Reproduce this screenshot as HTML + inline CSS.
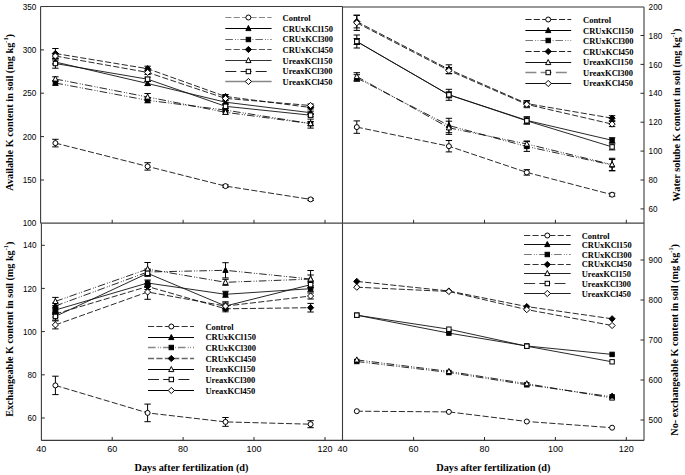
<!DOCTYPE html>
<html><head><meta charset="utf-8"><style>
html,body{margin:0;padding:0;background:#fff;width:685px;height:475px;overflow:hidden}
svg{display:block}
text{fill:#000}
</style></head><body>
<svg width="685" height="475" viewBox="0 0 685 475"><rect width="685" height="475" fill="#fff"/><line x1="40.60" y1="6.50" x2="342.50" y2="6.50" stroke="#3a3a3a" stroke-width="1.1" />
<line x1="342.50" y1="7.00" x2="644.00" y2="7.00" stroke="#333" stroke-width="1.0" />
<line x1="40.60" y1="6.50" x2="40.60" y2="223.20" stroke="#3a3a3a" stroke-width="1.1" />
<line x1="41.40" y1="223.20" x2="41.40" y2="440.40" stroke="#3a3a3a" stroke-width="1.1" />
<line x1="342.50" y1="6.50" x2="342.50" y2="440.40" stroke="#3a3a3a" stroke-width="1.1" />
<line x1="644.00" y1="7.00" x2="644.00" y2="440.40" stroke="#666" stroke-width="1.4" />
<line x1="40.60" y1="223.20" x2="644.00" y2="223.20" stroke="#444" stroke-width="1.2" />
<line x1="41.40" y1="440.40" x2="644.00" y2="440.40" stroke="#3a3a3a" stroke-width="1.1" />
<line x1="112.20" y1="223.20" x2="112.20" y2="219.80" stroke="#2a2a2a" stroke-width="1.0" />
<line x1="183.10" y1="223.20" x2="183.10" y2="219.80" stroke="#2a2a2a" stroke-width="1.0" />
<line x1="254.00" y1="223.20" x2="254.00" y2="219.80" stroke="#2a2a2a" stroke-width="1.0" />
<line x1="325.00" y1="223.20" x2="325.00" y2="219.80" stroke="#2a2a2a" stroke-width="1.0" />
<line x1="413.60" y1="223.20" x2="413.60" y2="219.80" stroke="#2a2a2a" stroke-width="1.0" />
<line x1="484.50" y1="223.20" x2="484.50" y2="219.80" stroke="#2a2a2a" stroke-width="1.0" />
<line x1="555.40" y1="223.20" x2="555.40" y2="219.80" stroke="#2a2a2a" stroke-width="1.0" />
<line x1="626.30" y1="223.20" x2="626.30" y2="219.80" stroke="#2a2a2a" stroke-width="1.0" />
<line x1="112.20" y1="440.40" x2="112.20" y2="437.00" stroke="#2a2a2a" stroke-width="1.0" />
<line x1="183.10" y1="440.40" x2="183.10" y2="437.00" stroke="#2a2a2a" stroke-width="1.0" />
<line x1="254.00" y1="440.40" x2="254.00" y2="437.00" stroke="#2a2a2a" stroke-width="1.0" />
<line x1="325.00" y1="440.40" x2="325.00" y2="437.00" stroke="#2a2a2a" stroke-width="1.0" />
<line x1="413.60" y1="440.40" x2="413.60" y2="437.00" stroke="#2a2a2a" stroke-width="1.0" />
<line x1="484.50" y1="440.40" x2="484.50" y2="437.00" stroke="#2a2a2a" stroke-width="1.0" />
<line x1="555.40" y1="440.40" x2="555.40" y2="437.00" stroke="#2a2a2a" stroke-width="1.0" />
<line x1="626.30" y1="440.40" x2="626.30" y2="437.00" stroke="#2a2a2a" stroke-width="1.0" />
<text x="41.30" y="452.00" font-family="Liberation Sans" font-size="9" font-weight="normal" text-anchor="middle" >40</text>
<text x="112.20" y="452.00" font-family="Liberation Sans" font-size="9" font-weight="normal" text-anchor="middle" >60</text>
<text x="183.10" y="452.00" font-family="Liberation Sans" font-size="9" font-weight="normal" text-anchor="middle" >80</text>
<text x="254.00" y="452.00" font-family="Liberation Sans" font-size="9" font-weight="normal" text-anchor="middle" >100</text>
<text x="325.00" y="452.00" font-family="Liberation Sans" font-size="9" font-weight="normal" text-anchor="middle" >120</text>
<text x="342.50" y="452.00" font-family="Liberation Sans" font-size="9" font-weight="normal" text-anchor="middle" >40</text>
<text x="413.60" y="452.00" font-family="Liberation Sans" font-size="9" font-weight="normal" text-anchor="middle" >60</text>
<text x="484.50" y="452.00" font-family="Liberation Sans" font-size="9" font-weight="normal" text-anchor="middle" >80</text>
<text x="555.40" y="452.00" font-family="Liberation Sans" font-size="9" font-weight="normal" text-anchor="middle" >100</text>
<text x="626.30" y="452.00" font-family="Liberation Sans" font-size="9" font-weight="normal" text-anchor="middle" >120</text>
<text x="36.40" y="9.60" font-family="Liberation Sans" font-size="9.9" text-anchor="end" textLength="13.6" lengthAdjust="spacingAndGlyphs">350</text>
<line x1="40.60" y1="49.90" x2="44.00" y2="49.90" stroke="#2a2a2a" stroke-width="1.0" />
<text x="36.40" y="53.00" font-family="Liberation Sans" font-size="9.9" text-anchor="end" textLength="13.6" lengthAdjust="spacingAndGlyphs">300</text>
<line x1="40.60" y1="93.20" x2="44.00" y2="93.20" stroke="#2a2a2a" stroke-width="1.0" />
<text x="36.40" y="96.30" font-family="Liberation Sans" font-size="9.9" text-anchor="end" textLength="13.6" lengthAdjust="spacingAndGlyphs">250</text>
<line x1="40.60" y1="136.60" x2="44.00" y2="136.60" stroke="#2a2a2a" stroke-width="1.0" />
<text x="36.40" y="139.70" font-family="Liberation Sans" font-size="9.9" text-anchor="end" textLength="13.6" lengthAdjust="spacingAndGlyphs">200</text>
<line x1="40.60" y1="180.00" x2="44.00" y2="180.00" stroke="#2a2a2a" stroke-width="1.0" />
<text x="36.40" y="183.10" font-family="Liberation Sans" font-size="9.9" text-anchor="end" textLength="13.6" lengthAdjust="spacingAndGlyphs">150</text>
<text x="36.40" y="226.40" font-family="Liberation Sans" font-size="9.9" text-anchor="end" textLength="13.6" lengthAdjust="spacingAndGlyphs">100</text>
<line x1="41.40" y1="245.30" x2="44.80" y2="245.30" stroke="#2a2a2a" stroke-width="1.0" />
<text x="36.60" y="248.40" font-family="Liberation Sans" font-size="9.9" text-anchor="end" textLength="13.6" lengthAdjust="spacingAndGlyphs">140</text>
<line x1="41.40" y1="288.40" x2="44.80" y2="288.40" stroke="#2a2a2a" stroke-width="1.0" />
<text x="36.60" y="291.50" font-family="Liberation Sans" font-size="9.9" text-anchor="end" textLength="13.6" lengthAdjust="spacingAndGlyphs">120</text>
<line x1="41.40" y1="331.60" x2="44.80" y2="331.60" stroke="#2a2a2a" stroke-width="1.0" />
<text x="36.60" y="334.70" font-family="Liberation Sans" font-size="9.9" text-anchor="end" textLength="13.6" lengthAdjust="spacingAndGlyphs">100</text>
<line x1="41.40" y1="374.80" x2="44.80" y2="374.80" stroke="#2a2a2a" stroke-width="1.0" />
<text x="36.60" y="377.90" font-family="Liberation Sans" font-size="9.9" text-anchor="end" textLength="9.0" lengthAdjust="spacingAndGlyphs">80</text>
<line x1="41.40" y1="418.00" x2="44.80" y2="418.00" stroke="#2a2a2a" stroke-width="1.0" />
<text x="36.60" y="421.10" font-family="Liberation Sans" font-size="9.9" text-anchor="end" textLength="9.0" lengthAdjust="spacingAndGlyphs">60</text>
<text x="648.60" y="9.90" font-family="Liberation Sans" font-size="9.9" text-anchor="start" textLength="13.6" lengthAdjust="spacingAndGlyphs">200</text>
<line x1="644.00" y1="35.50" x2="640.50" y2="35.50" stroke="#2a2a2a" stroke-width="1.0" />
<text x="648.60" y="38.60" font-family="Liberation Sans" font-size="9.9" text-anchor="start" textLength="13.6" lengthAdjust="spacingAndGlyphs">180</text>
<line x1="644.00" y1="64.40" x2="640.50" y2="64.40" stroke="#2a2a2a" stroke-width="1.0" />
<text x="648.60" y="67.50" font-family="Liberation Sans" font-size="9.9" text-anchor="start" textLength="13.6" lengthAdjust="spacingAndGlyphs">160</text>
<line x1="644.00" y1="93.30" x2="640.50" y2="93.30" stroke="#2a2a2a" stroke-width="1.0" />
<text x="648.60" y="96.40" font-family="Liberation Sans" font-size="9.9" text-anchor="start" textLength="13.6" lengthAdjust="spacingAndGlyphs">140</text>
<line x1="644.00" y1="122.20" x2="640.50" y2="122.20" stroke="#2a2a2a" stroke-width="1.0" />
<text x="648.60" y="125.30" font-family="Liberation Sans" font-size="9.9" text-anchor="start" textLength="13.6" lengthAdjust="spacingAndGlyphs">120</text>
<line x1="644.00" y1="151.10" x2="640.50" y2="151.10" stroke="#2a2a2a" stroke-width="1.0" />
<text x="648.60" y="154.20" font-family="Liberation Sans" font-size="9.9" text-anchor="start" textLength="13.6" lengthAdjust="spacingAndGlyphs">100</text>
<line x1="644.00" y1="180.00" x2="640.50" y2="180.00" stroke="#2a2a2a" stroke-width="1.0" />
<text x="648.60" y="183.10" font-family="Liberation Sans" font-size="9.9" text-anchor="start" textLength="9.0" lengthAdjust="spacingAndGlyphs">80</text>
<line x1="644.00" y1="208.90" x2="640.50" y2="208.90" stroke="#2a2a2a" stroke-width="1.0" />
<text x="648.60" y="212.00" font-family="Liberation Sans" font-size="9.9" text-anchor="start" textLength="9.0" lengthAdjust="spacingAndGlyphs">60</text>
<line x1="644.00" y1="260.00" x2="640.50" y2="260.00" stroke="#2a2a2a" stroke-width="1.0" />
<text x="648.60" y="263.10" font-family="Liberation Sans" font-size="9.9" text-anchor="start" textLength="13.6" lengthAdjust="spacingAndGlyphs">900</text>
<line x1="644.00" y1="300.00" x2="640.50" y2="300.00" stroke="#2a2a2a" stroke-width="1.0" />
<text x="648.60" y="303.10" font-family="Liberation Sans" font-size="9.9" text-anchor="start" textLength="13.6" lengthAdjust="spacingAndGlyphs">800</text>
<line x1="644.00" y1="340.00" x2="640.50" y2="340.00" stroke="#2a2a2a" stroke-width="1.0" />
<text x="648.60" y="343.10" font-family="Liberation Sans" font-size="9.9" text-anchor="start" textLength="13.6" lengthAdjust="spacingAndGlyphs">700</text>
<line x1="644.00" y1="380.00" x2="640.50" y2="380.00" stroke="#2a2a2a" stroke-width="1.0" />
<text x="648.60" y="383.10" font-family="Liberation Sans" font-size="9.9" text-anchor="start" textLength="13.6" lengthAdjust="spacingAndGlyphs">600</text>
<line x1="644.00" y1="420.00" x2="640.50" y2="420.00" stroke="#2a2a2a" stroke-width="1.0" />
<text x="648.60" y="423.10" font-family="Liberation Sans" font-size="9.9" text-anchor="start" textLength="13.6" lengthAdjust="spacingAndGlyphs">500</text>
<text x="191.50" y="471.00" font-family="Liberation Serif" font-size="10.2" font-weight="bold" text-anchor="middle" textLength="113.9" lengthAdjust="spacingAndGlyphs">Days after fertilization (d)</text>
<text x="493.40" y="471.40" font-family="Liberation Serif" font-size="10.2" font-weight="bold" text-anchor="middle" textLength="114.2" lengthAdjust="spacingAndGlyphs">Days after fertilization (d)</text>
<g transform="translate(13.00,112.35) rotate(-90)"><text x="0" y="0" font-family="Liberation Serif" font-size="10.25" font-weight="bold" text-anchor="middle" textLength="156.7" lengthAdjust="spacingAndGlyphs">Available K content in soil (mg kg<tspan dy="-4.6" font-size="6.35">-1</tspan><tspan dy="4.6">)</tspan></text></g>
<g transform="translate(13.00,329.25) rotate(-90)"><text x="0" y="0" font-family="Liberation Serif" font-size="10.25" font-weight="bold" text-anchor="middle" textLength="175.1" lengthAdjust="spacingAndGlyphs">Exchangeable K content in soil (mg kg<tspan dy="-4.6" font-size="6.35">-1</tspan><tspan dy="4.6">)</tspan></text></g>
<g transform="translate(679.90,114.95) rotate(-90)"><text x="0" y="0" font-family="Liberation Serif" font-size="10.25" font-weight="bold" text-anchor="middle" textLength="172.9" lengthAdjust="spacingAndGlyphs">Water solube K content in soil (mg kg<tspan dy="-4.6" font-size="6.35">-1</tspan><tspan dy="4.6">)</tspan></text></g>
<g transform="translate(677.90,339.85) rotate(-90)"><text x="0" y="0" font-family="Liberation Serif" font-size="10.25" font-weight="bold" text-anchor="middle" textLength="191.7" lengthAdjust="spacingAndGlyphs">No- exchangeable K content in soil (mg kg<tspan dy="-4.6" font-size="6.35">-1</tspan><tspan dy="4.6">)</tspan></text></g>
<polyline points="55.40,143.10 147.60,166.40 225.50,186.10 310.60,199.40" fill="none" stroke="#111" stroke-width="0.9" stroke-dasharray="6.1 2.3"/>
<polyline points="55.40,62.00 147.60,83.50 225.50,102.20 310.60,112.70" fill="none" stroke="#111" stroke-width="0.9" />
<polyline points="55.40,83.00 147.60,100.30 225.50,110.10 310.60,123.60" fill="none" stroke="#111" stroke-width="0.9" stroke-dasharray="7.6 2.2 0.9 1.5 0.9 1.9"/>
<polyline points="55.40,53.50 147.60,68.70 225.50,96.50 310.60,107.50" fill="none" stroke="#111" stroke-width="0.9" stroke-dasharray="6.1 2.3"/>
<polyline points="55.40,79.00 147.60,97.00 225.50,112.30 310.60,123.60" fill="none" stroke="#111" stroke-width="0.9" stroke-dasharray="7.6 2.2 0.9 1.5 0.9 1.9"/>
<polyline points="55.40,63.50 147.60,79.20 225.50,106.30 310.60,115.20" fill="none" stroke="#111" stroke-width="0.9" />
<polyline points="55.40,56.00 147.60,72.40 225.50,98.40 310.60,105.50" fill="none" stroke="#111" stroke-width="0.9" stroke-dasharray="6.1 2.3"/>
<line x1="55.40" y1="139.30" x2="55.40" y2="146.90" stroke="#000" stroke-width="1.0" />
<line x1="52.20" y1="139.30" x2="58.60" y2="139.30" stroke="#000" stroke-width="1.0" />
<line x1="52.20" y1="146.90" x2="58.60" y2="146.90" stroke="#000" stroke-width="1.0" />
<line x1="147.60" y1="162.70" x2="147.60" y2="170.10" stroke="#000" stroke-width="1.0" />
<line x1="144.40" y1="162.70" x2="150.80" y2="162.70" stroke="#000" stroke-width="1.0" />
<line x1="144.40" y1="170.10" x2="150.80" y2="170.10" stroke="#000" stroke-width="1.0" />
<line x1="225.50" y1="184.90" x2="225.50" y2="187.30" stroke="#000" stroke-width="1.0" />
<line x1="222.30" y1="184.90" x2="228.70" y2="184.90" stroke="#000" stroke-width="1.0" />
<line x1="222.30" y1="187.30" x2="228.70" y2="187.30" stroke="#000" stroke-width="1.0" />
<line x1="310.60" y1="198.40" x2="310.60" y2="200.40" stroke="#000" stroke-width="1.0" />
<line x1="307.40" y1="198.40" x2="313.80" y2="198.40" stroke="#000" stroke-width="1.0" />
<line x1="307.40" y1="200.40" x2="313.80" y2="200.40" stroke="#000" stroke-width="1.0" />
<line x1="55.40" y1="60.00" x2="55.40" y2="64.00" stroke="#000" stroke-width="1.0" />
<line x1="52.20" y1="60.00" x2="58.60" y2="60.00" stroke="#000" stroke-width="1.0" />
<line x1="52.20" y1="64.00" x2="58.60" y2="64.00" stroke="#000" stroke-width="1.0" />
<line x1="147.60" y1="81.50" x2="147.60" y2="85.50" stroke="#000" stroke-width="1.0" />
<line x1="144.40" y1="81.50" x2="150.80" y2="81.50" stroke="#000" stroke-width="1.0" />
<line x1="144.40" y1="85.50" x2="150.80" y2="85.50" stroke="#000" stroke-width="1.0" />
<line x1="225.50" y1="100.70" x2="225.50" y2="103.70" stroke="#000" stroke-width="1.0" />
<line x1="222.30" y1="100.70" x2="228.70" y2="100.70" stroke="#000" stroke-width="1.0" />
<line x1="222.30" y1="103.70" x2="228.70" y2="103.70" stroke="#000" stroke-width="1.0" />
<line x1="310.60" y1="111.20" x2="310.60" y2="114.20" stroke="#000" stroke-width="1.0" />
<line x1="307.40" y1="111.20" x2="313.80" y2="111.20" stroke="#000" stroke-width="1.0" />
<line x1="307.40" y1="114.20" x2="313.80" y2="114.20" stroke="#000" stroke-width="1.0" />
<line x1="55.40" y1="80.80" x2="55.40" y2="85.20" stroke="#000" stroke-width="1.0" />
<line x1="52.20" y1="80.80" x2="58.60" y2="80.80" stroke="#000" stroke-width="1.0" />
<line x1="52.20" y1="85.20" x2="58.60" y2="85.20" stroke="#000" stroke-width="1.0" />
<line x1="147.60" y1="97.80" x2="147.60" y2="102.80" stroke="#000" stroke-width="1.0" />
<line x1="144.40" y1="97.80" x2="150.80" y2="97.80" stroke="#000" stroke-width="1.0" />
<line x1="144.40" y1="102.80" x2="150.80" y2="102.80" stroke="#000" stroke-width="1.0" />
<line x1="225.50" y1="108.10" x2="225.50" y2="112.10" stroke="#000" stroke-width="1.0" />
<line x1="222.30" y1="108.10" x2="228.70" y2="108.10" stroke="#000" stroke-width="1.0" />
<line x1="222.30" y1="112.10" x2="228.70" y2="112.10" stroke="#000" stroke-width="1.0" />
<line x1="310.60" y1="121.60" x2="310.60" y2="125.60" stroke="#000" stroke-width="1.0" />
<line x1="307.40" y1="121.60" x2="313.80" y2="121.60" stroke="#000" stroke-width="1.0" />
<line x1="307.40" y1="125.60" x2="313.80" y2="125.60" stroke="#000" stroke-width="1.0" />
<line x1="55.40" y1="48.50" x2="55.40" y2="58.50" stroke="#000" stroke-width="1.0" />
<line x1="52.20" y1="48.50" x2="58.60" y2="48.50" stroke="#000" stroke-width="1.0" />
<line x1="52.20" y1="58.50" x2="58.60" y2="58.50" stroke="#000" stroke-width="1.0" />
<line x1="147.60" y1="66.20" x2="147.60" y2="71.20" stroke="#000" stroke-width="1.0" />
<line x1="144.40" y1="66.20" x2="150.80" y2="66.20" stroke="#000" stroke-width="1.0" />
<line x1="144.40" y1="71.20" x2="150.80" y2="71.20" stroke="#000" stroke-width="1.0" />
<line x1="225.50" y1="94.50" x2="225.50" y2="98.50" stroke="#000" stroke-width="1.0" />
<line x1="222.30" y1="94.50" x2="228.70" y2="94.50" stroke="#000" stroke-width="1.0" />
<line x1="222.30" y1="98.50" x2="228.70" y2="98.50" stroke="#000" stroke-width="1.0" />
<line x1="310.60" y1="106.00" x2="310.60" y2="109.00" stroke="#000" stroke-width="1.0" />
<line x1="307.40" y1="106.00" x2="313.80" y2="106.00" stroke="#000" stroke-width="1.0" />
<line x1="307.40" y1="109.00" x2="313.80" y2="109.00" stroke="#000" stroke-width="1.0" />
<line x1="55.40" y1="76.80" x2="55.40" y2="81.20" stroke="#000" stroke-width="1.0" />
<line x1="52.20" y1="76.80" x2="58.60" y2="76.80" stroke="#000" stroke-width="1.0" />
<line x1="52.20" y1="81.20" x2="58.60" y2="81.20" stroke="#000" stroke-width="1.0" />
<line x1="147.60" y1="93.50" x2="147.60" y2="100.50" stroke="#000" stroke-width="1.0" />
<line x1="144.40" y1="93.50" x2="150.80" y2="93.50" stroke="#000" stroke-width="1.0" />
<line x1="144.40" y1="100.50" x2="150.80" y2="100.50" stroke="#000" stroke-width="1.0" />
<line x1="225.50" y1="110.30" x2="225.50" y2="114.30" stroke="#000" stroke-width="1.0" />
<line x1="222.30" y1="110.30" x2="228.70" y2="110.30" stroke="#000" stroke-width="1.0" />
<line x1="222.30" y1="114.30" x2="228.70" y2="114.30" stroke="#000" stroke-width="1.0" />
<line x1="310.60" y1="119.10" x2="310.60" y2="128.10" stroke="#000" stroke-width="1.0" />
<line x1="307.40" y1="119.10" x2="313.80" y2="119.10" stroke="#000" stroke-width="1.0" />
<line x1="307.40" y1="128.10" x2="313.80" y2="128.10" stroke="#000" stroke-width="1.0" />
<line x1="55.40" y1="58.80" x2="55.40" y2="68.20" stroke="#000" stroke-width="1.0" />
<line x1="52.20" y1="58.80" x2="58.60" y2="58.80" stroke="#000" stroke-width="1.0" />
<line x1="52.20" y1="68.20" x2="58.60" y2="68.20" stroke="#000" stroke-width="1.0" />
<line x1="147.60" y1="77.20" x2="147.60" y2="81.20" stroke="#000" stroke-width="1.0" />
<line x1="144.40" y1="77.20" x2="150.80" y2="77.20" stroke="#000" stroke-width="1.0" />
<line x1="144.40" y1="81.20" x2="150.80" y2="81.20" stroke="#000" stroke-width="1.0" />
<line x1="225.50" y1="104.30" x2="225.50" y2="108.30" stroke="#000" stroke-width="1.0" />
<line x1="222.30" y1="104.30" x2="228.70" y2="104.30" stroke="#000" stroke-width="1.0" />
<line x1="222.30" y1="108.30" x2="228.70" y2="108.30" stroke="#000" stroke-width="1.0" />
<line x1="310.60" y1="113.70" x2="310.60" y2="116.70" stroke="#000" stroke-width="1.0" />
<line x1="307.40" y1="113.70" x2="313.80" y2="113.70" stroke="#000" stroke-width="1.0" />
<line x1="307.40" y1="116.70" x2="313.80" y2="116.70" stroke="#000" stroke-width="1.0" />
<line x1="55.40" y1="54.00" x2="55.40" y2="58.00" stroke="#000" stroke-width="1.0" />
<line x1="52.20" y1="54.00" x2="58.60" y2="54.00" stroke="#000" stroke-width="1.0" />
<line x1="52.20" y1="58.00" x2="58.60" y2="58.00" stroke="#000" stroke-width="1.0" />
<line x1="147.60" y1="70.40" x2="147.60" y2="74.40" stroke="#000" stroke-width="1.0" />
<line x1="144.40" y1="70.40" x2="150.80" y2="70.40" stroke="#000" stroke-width="1.0" />
<line x1="144.40" y1="74.40" x2="150.80" y2="74.40" stroke="#000" stroke-width="1.0" />
<line x1="225.50" y1="96.90" x2="225.50" y2="99.90" stroke="#000" stroke-width="1.0" />
<line x1="222.30" y1="96.90" x2="228.70" y2="96.90" stroke="#000" stroke-width="1.0" />
<line x1="222.30" y1="99.90" x2="228.70" y2="99.90" stroke="#000" stroke-width="1.0" />
<line x1="310.60" y1="104.00" x2="310.60" y2="107.00" stroke="#000" stroke-width="1.0" />
<line x1="307.40" y1="104.00" x2="313.80" y2="104.00" stroke="#000" stroke-width="1.0" />
<line x1="307.40" y1="107.00" x2="313.80" y2="107.00" stroke="#000" stroke-width="1.0" />
<circle cx="55.40" cy="143.10" r="2.50" fill="#fff" stroke="#000" stroke-width="1"/>
<circle cx="147.60" cy="166.40" r="2.50" fill="#fff" stroke="#000" stroke-width="1"/>
<circle cx="225.50" cy="186.10" r="2.50" fill="#fff" stroke="#000" stroke-width="1"/>
<circle cx="310.60" cy="199.40" r="2.50" fill="#fff" stroke="#000" stroke-width="1"/>
<polygon points="55.40,59.00 52.80,64.10 58.00,64.10" fill="#000" stroke="#000" stroke-width="1"/>
<polygon points="147.60,80.50 145.00,85.60 150.20,85.60" fill="#000" stroke="#000" stroke-width="1"/>
<polygon points="225.50,99.20 222.90,104.30 228.10,104.30" fill="#000" stroke="#000" stroke-width="1"/>
<polygon points="310.60,109.70 308.00,114.80 313.20,114.80" fill="#000" stroke="#000" stroke-width="1"/>
<rect x="53.20" y="80.80" width="4.40" height="4.40" fill="#000" stroke="#000" stroke-width="1"/>
<rect x="145.40" y="98.10" width="4.40" height="4.40" fill="#000" stroke="#000" stroke-width="1"/>
<rect x="223.30" y="107.90" width="4.40" height="4.40" fill="#000" stroke="#000" stroke-width="1"/>
<rect x="308.40" y="121.40" width="4.40" height="4.40" fill="#000" stroke="#000" stroke-width="1"/>
<polygon points="55.40,50.40 58.50,53.50 55.40,56.60 52.30,53.50" fill="#000" stroke="#000" stroke-width="1"/>
<polygon points="147.60,65.60 150.70,68.70 147.60,71.80 144.50,68.70" fill="#000" stroke="#000" stroke-width="1"/>
<polygon points="225.50,93.40 228.60,96.50 225.50,99.60 222.40,96.50" fill="#000" stroke="#000" stroke-width="1"/>
<polygon points="310.60,104.40 313.70,107.50 310.60,110.60 307.50,107.50" fill="#000" stroke="#000" stroke-width="1"/>
<polygon points="55.40,76.00 52.80,81.10 58.00,81.10" fill="#fff" stroke="#000" stroke-width="1"/>
<polygon points="147.60,94.00 145.00,99.10 150.20,99.10" fill="#fff" stroke="#000" stroke-width="1"/>
<polygon points="225.50,109.30 222.90,114.40 228.10,114.40" fill="#fff" stroke="#000" stroke-width="1"/>
<polygon points="310.60,120.60 308.00,125.70 313.20,125.70" fill="#fff" stroke="#000" stroke-width="1"/>
<rect x="53.20" y="61.30" width="4.40" height="4.40" fill="#fff" stroke="#000" stroke-width="1"/>
<rect x="145.40" y="77.00" width="4.40" height="4.40" fill="#fff" stroke="#000" stroke-width="1"/>
<rect x="223.30" y="104.10" width="4.40" height="4.40" fill="#fff" stroke="#000" stroke-width="1"/>
<rect x="308.40" y="113.00" width="4.40" height="4.40" fill="#fff" stroke="#000" stroke-width="1"/>
<polygon points="55.40,52.90 58.50,56.00 55.40,59.10 52.30,56.00" fill="#fff" stroke="#000" stroke-width="1"/>
<polygon points="147.60,69.30 150.70,72.40 147.60,75.50 144.50,72.40" fill="#fff" stroke="#000" stroke-width="1"/>
<polygon points="225.50,95.30 228.60,98.40 225.50,101.50 222.40,98.40" fill="#fff" stroke="#000" stroke-width="1"/>
<polygon points="310.60,102.40 313.70,105.50 310.60,108.60 307.50,105.50" fill="#fff" stroke="#000" stroke-width="1"/>
<polyline points="356.80,127.10 448.90,146.20 526.80,172.40 612.10,194.70" fill="none" stroke="#111" stroke-width="0.9" stroke-dasharray="6.1 2.3"/>
<polyline points="356.80,78.00 448.90,125.50 526.80,146.50 612.10,165.00" fill="none" stroke="#111" stroke-width="0.9" stroke-dasharray="7.6 2.2 0.9 1.5 0.9 1.9"/>
<polyline points="356.80,41.50 448.90,94.80 526.80,120.40 612.10,140.30" fill="none" stroke="#111" stroke-width="0.9" />
<polyline points="356.80,21.60 448.90,69.30 526.80,103.60 612.10,118.20" fill="none" stroke="#111" stroke-width="0.9" stroke-dasharray="6.1 2.3"/>
<polyline points="356.80,76.50 448.90,127.80 526.80,144.00 612.10,164.60" fill="none" stroke="#111" stroke-width="0.9" stroke-dasharray="7.6 2.2 0.9 1.5 0.9 1.9"/>
<polyline points="356.80,41.50 448.90,94.80 526.80,120.80 612.10,146.90" fill="none" stroke="#111" stroke-width="0.9" />
<polyline points="356.80,22.80 448.90,70.50 526.80,104.40 612.10,124.10" fill="none" stroke="#111" stroke-width="0.9" stroke-dasharray="6.1 2.3"/>
<line x1="356.80" y1="120.90" x2="356.80" y2="133.30" stroke="#000" stroke-width="1.0" />
<line x1="353.60" y1="120.90" x2="360.00" y2="120.90" stroke="#000" stroke-width="1.0" />
<line x1="353.60" y1="133.30" x2="360.00" y2="133.30" stroke="#000" stroke-width="1.0" />
<line x1="448.90" y1="140.50" x2="448.90" y2="151.90" stroke="#000" stroke-width="1.0" />
<line x1="445.70" y1="140.50" x2="452.10" y2="140.50" stroke="#000" stroke-width="1.0" />
<line x1="445.70" y1="151.90" x2="452.10" y2="151.90" stroke="#000" stroke-width="1.0" />
<line x1="526.80" y1="169.70" x2="526.80" y2="175.10" stroke="#000" stroke-width="1.0" />
<line x1="523.60" y1="169.70" x2="530.00" y2="169.70" stroke="#000" stroke-width="1.0" />
<line x1="523.60" y1="175.10" x2="530.00" y2="175.10" stroke="#000" stroke-width="1.0" />
<line x1="612.10" y1="193.20" x2="612.10" y2="196.20" stroke="#000" stroke-width="1.0" />
<line x1="608.90" y1="193.20" x2="615.30" y2="193.20" stroke="#000" stroke-width="1.0" />
<line x1="608.90" y1="196.20" x2="615.30" y2="196.20" stroke="#000" stroke-width="1.0" />
<line x1="356.80" y1="74.70" x2="356.80" y2="81.30" stroke="#000" stroke-width="1.0" />
<line x1="353.60" y1="74.70" x2="360.00" y2="74.70" stroke="#000" stroke-width="1.0" />
<line x1="353.60" y1="81.30" x2="360.00" y2="81.30" stroke="#000" stroke-width="1.0" />
<line x1="448.90" y1="118.30" x2="448.90" y2="132.70" stroke="#000" stroke-width="1.0" />
<line x1="445.70" y1="118.30" x2="452.10" y2="118.30" stroke="#000" stroke-width="1.0" />
<line x1="445.70" y1="132.70" x2="452.10" y2="132.70" stroke="#000" stroke-width="1.0" />
<line x1="526.80" y1="141.60" x2="526.80" y2="151.40" stroke="#000" stroke-width="1.0" />
<line x1="523.60" y1="141.60" x2="530.00" y2="141.60" stroke="#000" stroke-width="1.0" />
<line x1="523.60" y1="151.40" x2="530.00" y2="151.40" stroke="#000" stroke-width="1.0" />
<line x1="612.10" y1="159.50" x2="612.10" y2="170.50" stroke="#000" stroke-width="1.0" />
<line x1="608.90" y1="159.50" x2="615.30" y2="159.50" stroke="#000" stroke-width="1.0" />
<line x1="608.90" y1="170.50" x2="615.30" y2="170.50" stroke="#000" stroke-width="1.0" />
<line x1="356.80" y1="35.00" x2="356.80" y2="48.00" stroke="#000" stroke-width="1.0" />
<line x1="353.60" y1="35.00" x2="360.00" y2="35.00" stroke="#000" stroke-width="1.0" />
<line x1="353.60" y1="48.00" x2="360.00" y2="48.00" stroke="#000" stroke-width="1.0" />
<line x1="448.90" y1="89.30" x2="448.90" y2="100.30" stroke="#000" stroke-width="1.0" />
<line x1="445.70" y1="89.30" x2="452.10" y2="89.30" stroke="#000" stroke-width="1.0" />
<line x1="445.70" y1="100.30" x2="452.10" y2="100.30" stroke="#000" stroke-width="1.0" />
<line x1="526.80" y1="116.70" x2="526.80" y2="124.10" stroke="#000" stroke-width="1.0" />
<line x1="523.60" y1="116.70" x2="530.00" y2="116.70" stroke="#000" stroke-width="1.0" />
<line x1="523.60" y1="124.10" x2="530.00" y2="124.10" stroke="#000" stroke-width="1.0" />
<line x1="612.10" y1="137.80" x2="612.10" y2="142.80" stroke="#000" stroke-width="1.0" />
<line x1="608.90" y1="137.80" x2="615.30" y2="137.80" stroke="#000" stroke-width="1.0" />
<line x1="608.90" y1="142.80" x2="615.30" y2="142.80" stroke="#000" stroke-width="1.0" />
<line x1="356.80" y1="15.30" x2="356.80" y2="27.90" stroke="#000" stroke-width="1.0" />
<line x1="353.60" y1="15.30" x2="360.00" y2="15.30" stroke="#000" stroke-width="1.0" />
<line x1="353.60" y1="27.90" x2="360.00" y2="27.90" stroke="#000" stroke-width="1.0" />
<line x1="448.90" y1="64.80" x2="448.90" y2="73.80" stroke="#000" stroke-width="1.0" />
<line x1="445.70" y1="64.80" x2="452.10" y2="64.80" stroke="#000" stroke-width="1.0" />
<line x1="445.70" y1="73.80" x2="452.10" y2="73.80" stroke="#000" stroke-width="1.0" />
<line x1="526.80" y1="100.60" x2="526.80" y2="106.60" stroke="#000" stroke-width="1.0" />
<line x1="523.60" y1="100.60" x2="530.00" y2="100.60" stroke="#000" stroke-width="1.0" />
<line x1="523.60" y1="106.60" x2="530.00" y2="106.60" stroke="#000" stroke-width="1.0" />
<line x1="612.10" y1="115.70" x2="612.10" y2="120.70" stroke="#000" stroke-width="1.0" />
<line x1="608.90" y1="115.70" x2="615.30" y2="115.70" stroke="#000" stroke-width="1.0" />
<line x1="608.90" y1="120.70" x2="615.30" y2="120.70" stroke="#000" stroke-width="1.0" />
<line x1="356.80" y1="72.70" x2="356.80" y2="80.30" stroke="#000" stroke-width="1.0" />
<line x1="353.60" y1="72.70" x2="360.00" y2="72.70" stroke="#000" stroke-width="1.0" />
<line x1="353.60" y1="80.30" x2="360.00" y2="80.30" stroke="#000" stroke-width="1.0" />
<line x1="448.90" y1="121.20" x2="448.90" y2="134.40" stroke="#000" stroke-width="1.0" />
<line x1="445.70" y1="121.20" x2="452.10" y2="121.20" stroke="#000" stroke-width="1.0" />
<line x1="445.70" y1="134.40" x2="452.10" y2="134.40" stroke="#000" stroke-width="1.0" />
<line x1="526.80" y1="141.00" x2="526.80" y2="147.00" stroke="#000" stroke-width="1.0" />
<line x1="523.60" y1="141.00" x2="530.00" y2="141.00" stroke="#000" stroke-width="1.0" />
<line x1="523.60" y1="147.00" x2="530.00" y2="147.00" stroke="#000" stroke-width="1.0" />
<line x1="612.10" y1="158.30" x2="612.10" y2="170.90" stroke="#000" stroke-width="1.0" />
<line x1="608.90" y1="158.30" x2="615.30" y2="158.30" stroke="#000" stroke-width="1.0" />
<line x1="608.90" y1="170.90" x2="615.30" y2="170.90" stroke="#000" stroke-width="1.0" />
<line x1="356.80" y1="38.50" x2="356.80" y2="44.50" stroke="#000" stroke-width="1.0" />
<line x1="353.60" y1="38.50" x2="360.00" y2="38.50" stroke="#000" stroke-width="1.0" />
<line x1="353.60" y1="44.50" x2="360.00" y2="44.50" stroke="#000" stroke-width="1.0" />
<line x1="448.90" y1="91.80" x2="448.90" y2="97.80" stroke="#000" stroke-width="1.0" />
<line x1="445.70" y1="91.80" x2="452.10" y2="91.80" stroke="#000" stroke-width="1.0" />
<line x1="445.70" y1="97.80" x2="452.10" y2="97.80" stroke="#000" stroke-width="1.0" />
<line x1="526.80" y1="117.80" x2="526.80" y2="123.80" stroke="#000" stroke-width="1.0" />
<line x1="523.60" y1="117.80" x2="530.00" y2="117.80" stroke="#000" stroke-width="1.0" />
<line x1="523.60" y1="123.80" x2="530.00" y2="123.80" stroke="#000" stroke-width="1.0" />
<line x1="612.10" y1="143.90" x2="612.10" y2="149.90" stroke="#000" stroke-width="1.0" />
<line x1="608.90" y1="143.90" x2="615.30" y2="143.90" stroke="#000" stroke-width="1.0" />
<line x1="608.90" y1="149.90" x2="615.30" y2="149.90" stroke="#000" stroke-width="1.0" />
<line x1="356.80" y1="15.20" x2="356.80" y2="30.40" stroke="#000" stroke-width="1.0" />
<line x1="353.60" y1="15.20" x2="360.00" y2="15.20" stroke="#000" stroke-width="1.0" />
<line x1="353.60" y1="30.40" x2="360.00" y2="30.40" stroke="#000" stroke-width="1.0" />
<line x1="448.90" y1="67.50" x2="448.90" y2="73.50" stroke="#000" stroke-width="1.0" />
<line x1="445.70" y1="67.50" x2="452.10" y2="67.50" stroke="#000" stroke-width="1.0" />
<line x1="445.70" y1="73.50" x2="452.10" y2="73.50" stroke="#000" stroke-width="1.0" />
<line x1="526.80" y1="101.10" x2="526.80" y2="107.70" stroke="#000" stroke-width="1.0" />
<line x1="523.60" y1="101.10" x2="530.00" y2="101.10" stroke="#000" stroke-width="1.0" />
<line x1="523.60" y1="107.70" x2="530.00" y2="107.70" stroke="#000" stroke-width="1.0" />
<line x1="612.10" y1="121.60" x2="612.10" y2="126.60" stroke="#000" stroke-width="1.0" />
<line x1="608.90" y1="121.60" x2="615.30" y2="121.60" stroke="#000" stroke-width="1.0" />
<line x1="608.90" y1="126.60" x2="615.30" y2="126.60" stroke="#000" stroke-width="1.0" />
<circle cx="356.80" cy="127.10" r="2.50" fill="#fff" stroke="#000" stroke-width="1"/>
<circle cx="448.90" cy="146.20" r="2.50" fill="#fff" stroke="#000" stroke-width="1"/>
<circle cx="526.80" cy="172.40" r="2.50" fill="#fff" stroke="#000" stroke-width="1"/>
<circle cx="612.10" cy="194.70" r="2.50" fill="#fff" stroke="#000" stroke-width="1"/>
<polygon points="356.80,75.00 354.20,80.10 359.40,80.10" fill="#000" stroke="#000" stroke-width="1"/>
<polygon points="448.90,122.50 446.30,127.60 451.50,127.60" fill="#000" stroke="#000" stroke-width="1"/>
<polygon points="526.80,143.50 524.20,148.60 529.40,148.60" fill="#000" stroke="#000" stroke-width="1"/>
<polygon points="612.10,162.00 609.50,167.10 614.70,167.10" fill="#000" stroke="#000" stroke-width="1"/>
<rect x="354.60" y="39.30" width="4.40" height="4.40" fill="#000" stroke="#000" stroke-width="1"/>
<rect x="446.70" y="92.60" width="4.40" height="4.40" fill="#000" stroke="#000" stroke-width="1"/>
<rect x="524.60" y="118.20" width="4.40" height="4.40" fill="#000" stroke="#000" stroke-width="1"/>
<rect x="609.90" y="138.10" width="4.40" height="4.40" fill="#000" stroke="#000" stroke-width="1"/>
<polygon points="356.80,18.50 359.90,21.60 356.80,24.70 353.70,21.60" fill="#000" stroke="#000" stroke-width="1"/>
<polygon points="448.90,66.20 452.00,69.30 448.90,72.40 445.80,69.30" fill="#000" stroke="#000" stroke-width="1"/>
<polygon points="526.80,100.50 529.90,103.60 526.80,106.70 523.70,103.60" fill="#000" stroke="#000" stroke-width="1"/>
<polygon points="612.10,115.10 615.20,118.20 612.10,121.30 609.00,118.20" fill="#000" stroke="#000" stroke-width="1"/>
<polygon points="356.80,73.50 354.20,78.60 359.40,78.60" fill="#fff" stroke="#000" stroke-width="1"/>
<polygon points="448.90,124.80 446.30,129.90 451.50,129.90" fill="#fff" stroke="#000" stroke-width="1"/>
<polygon points="526.80,141.00 524.20,146.10 529.40,146.10" fill="#fff" stroke="#000" stroke-width="1"/>
<polygon points="612.10,161.60 609.50,166.70 614.70,166.70" fill="#fff" stroke="#000" stroke-width="1"/>
<rect x="354.60" y="39.30" width="4.40" height="4.40" fill="#fff" stroke="#000" stroke-width="1"/>
<rect x="446.70" y="92.60" width="4.40" height="4.40" fill="#fff" stroke="#000" stroke-width="1"/>
<rect x="524.60" y="118.60" width="4.40" height="4.40" fill="#fff" stroke="#000" stroke-width="1"/>
<rect x="609.90" y="144.70" width="4.40" height="4.40" fill="#fff" stroke="#000" stroke-width="1"/>
<polygon points="356.80,19.70 359.90,22.80 356.80,25.90 353.70,22.80" fill="#fff" stroke="#000" stroke-width="1"/>
<polygon points="448.90,67.40 452.00,70.50 448.90,73.60 445.80,70.50" fill="#fff" stroke="#000" stroke-width="1"/>
<polygon points="526.80,101.30 529.90,104.40 526.80,107.50 523.70,104.40" fill="#fff" stroke="#000" stroke-width="1"/>
<polygon points="612.10,121.00 615.20,124.10 612.10,127.20 609.00,124.10" fill="#fff" stroke="#000" stroke-width="1"/>
<polyline points="55.40,385.40 147.60,412.90 225.50,421.90 310.60,424.20" fill="none" stroke="#111" stroke-width="0.9" stroke-dasharray="6.1 2.3"/>
<polyline points="55.40,306.00 147.60,272.00 225.50,270.30 310.60,279.00" fill="none" stroke="#111" stroke-width="0.9" stroke-dasharray="7.6 2.2 0.9 1.5 0.9 1.9"/>
<polyline points="55.40,310.00 147.60,283.00 225.50,294.30 310.60,288.70" fill="none" stroke="#111" stroke-width="0.9" />
<polyline points="55.40,314.00 147.60,286.50 225.50,308.80 310.60,307.70" fill="none" stroke="#111" stroke-width="0.9" stroke-dasharray="6.1 2.3"/>
<polyline points="55.40,301.40 147.60,269.10 225.50,282.30 310.60,279.10" fill="none" stroke="#111" stroke-width="0.9" stroke-dasharray="7.6 2.2 0.9 1.5 0.9 1.9"/>
<polyline points="55.40,316.40 147.60,273.30 225.50,306.00 310.60,284.70" fill="none" stroke="#111" stroke-width="0.9" />
<polyline points="55.40,324.90 147.60,292.00 225.50,306.10 310.60,296.00" fill="none" stroke="#111" stroke-width="0.9" stroke-dasharray="6.1 2.3"/>
<line x1="55.40" y1="376.20" x2="55.40" y2="394.60" stroke="#000" stroke-width="1.0" />
<line x1="52.20" y1="376.20" x2="58.60" y2="376.20" stroke="#000" stroke-width="1.0" />
<line x1="52.20" y1="394.60" x2="58.60" y2="394.60" stroke="#000" stroke-width="1.0" />
<line x1="147.60" y1="404.10" x2="147.60" y2="421.70" stroke="#000" stroke-width="1.0" />
<line x1="144.40" y1="404.10" x2="150.80" y2="404.10" stroke="#000" stroke-width="1.0" />
<line x1="144.40" y1="421.70" x2="150.80" y2="421.70" stroke="#000" stroke-width="1.0" />
<line x1="225.50" y1="417.50" x2="225.50" y2="426.30" stroke="#000" stroke-width="1.0" />
<line x1="222.30" y1="417.50" x2="228.70" y2="417.50" stroke="#000" stroke-width="1.0" />
<line x1="222.30" y1="426.30" x2="228.70" y2="426.30" stroke="#000" stroke-width="1.0" />
<line x1="310.60" y1="420.70" x2="310.60" y2="427.70" stroke="#000" stroke-width="1.0" />
<line x1="307.40" y1="420.70" x2="313.80" y2="420.70" stroke="#000" stroke-width="1.0" />
<line x1="307.40" y1="427.70" x2="313.80" y2="427.70" stroke="#000" stroke-width="1.0" />
<line x1="55.40" y1="303.00" x2="55.40" y2="309.00" stroke="#000" stroke-width="1.0" />
<line x1="52.20" y1="303.00" x2="58.60" y2="303.00" stroke="#000" stroke-width="1.0" />
<line x1="52.20" y1="309.00" x2="58.60" y2="309.00" stroke="#000" stroke-width="1.0" />
<line x1="147.60" y1="269.00" x2="147.60" y2="275.00" stroke="#000" stroke-width="1.0" />
<line x1="144.40" y1="269.00" x2="150.80" y2="269.00" stroke="#000" stroke-width="1.0" />
<line x1="144.40" y1="275.00" x2="150.80" y2="275.00" stroke="#000" stroke-width="1.0" />
<line x1="225.50" y1="262.70" x2="225.50" y2="277.90" stroke="#000" stroke-width="1.0" />
<line x1="222.30" y1="262.70" x2="228.70" y2="262.70" stroke="#000" stroke-width="1.0" />
<line x1="222.30" y1="277.90" x2="228.70" y2="277.90" stroke="#000" stroke-width="1.0" />
<line x1="310.60" y1="275.00" x2="310.60" y2="283.00" stroke="#000" stroke-width="1.0" />
<line x1="307.40" y1="275.00" x2="313.80" y2="275.00" stroke="#000" stroke-width="1.0" />
<line x1="307.40" y1="283.00" x2="313.80" y2="283.00" stroke="#000" stroke-width="1.0" />
<line x1="55.40" y1="307.00" x2="55.40" y2="313.00" stroke="#000" stroke-width="1.0" />
<line x1="52.20" y1="307.00" x2="58.60" y2="307.00" stroke="#000" stroke-width="1.0" />
<line x1="52.20" y1="313.00" x2="58.60" y2="313.00" stroke="#000" stroke-width="1.0" />
<line x1="147.60" y1="280.00" x2="147.60" y2="286.00" stroke="#000" stroke-width="1.0" />
<line x1="144.40" y1="280.00" x2="150.80" y2="280.00" stroke="#000" stroke-width="1.0" />
<line x1="144.40" y1="286.00" x2="150.80" y2="286.00" stroke="#000" stroke-width="1.0" />
<line x1="225.50" y1="291.30" x2="225.50" y2="297.30" stroke="#000" stroke-width="1.0" />
<line x1="222.30" y1="291.30" x2="228.70" y2="291.30" stroke="#000" stroke-width="1.0" />
<line x1="222.30" y1="297.30" x2="228.70" y2="297.30" stroke="#000" stroke-width="1.0" />
<line x1="310.60" y1="285.70" x2="310.60" y2="291.70" stroke="#000" stroke-width="1.0" />
<line x1="307.40" y1="285.70" x2="313.80" y2="285.70" stroke="#000" stroke-width="1.0" />
<line x1="307.40" y1="291.70" x2="313.80" y2="291.70" stroke="#000" stroke-width="1.0" />
<line x1="55.40" y1="311.00" x2="55.40" y2="317.00" stroke="#000" stroke-width="1.0" />
<line x1="52.20" y1="311.00" x2="58.60" y2="311.00" stroke="#000" stroke-width="1.0" />
<line x1="52.20" y1="317.00" x2="58.60" y2="317.00" stroke="#000" stroke-width="1.0" />
<line x1="147.60" y1="283.50" x2="147.60" y2="289.50" stroke="#000" stroke-width="1.0" />
<line x1="144.40" y1="283.50" x2="150.80" y2="283.50" stroke="#000" stroke-width="1.0" />
<line x1="144.40" y1="289.50" x2="150.80" y2="289.50" stroke="#000" stroke-width="1.0" />
<line x1="225.50" y1="305.80" x2="225.50" y2="311.80" stroke="#000" stroke-width="1.0" />
<line x1="222.30" y1="305.80" x2="228.70" y2="305.80" stroke="#000" stroke-width="1.0" />
<line x1="222.30" y1="311.80" x2="228.70" y2="311.80" stroke="#000" stroke-width="1.0" />
<line x1="310.60" y1="303.40" x2="310.60" y2="312.00" stroke="#000" stroke-width="1.0" />
<line x1="307.40" y1="303.40" x2="313.80" y2="303.40" stroke="#000" stroke-width="1.0" />
<line x1="307.40" y1="312.00" x2="313.80" y2="312.00" stroke="#000" stroke-width="1.0" />
<line x1="55.40" y1="297.40" x2="55.40" y2="305.40" stroke="#000" stroke-width="1.0" />
<line x1="52.20" y1="297.40" x2="58.60" y2="297.40" stroke="#000" stroke-width="1.0" />
<line x1="52.20" y1="305.40" x2="58.60" y2="305.40" stroke="#000" stroke-width="1.0" />
<line x1="147.60" y1="262.50" x2="147.60" y2="275.70" stroke="#000" stroke-width="1.0" />
<line x1="144.40" y1="262.50" x2="150.80" y2="262.50" stroke="#000" stroke-width="1.0" />
<line x1="144.40" y1="275.70" x2="150.80" y2="275.70" stroke="#000" stroke-width="1.0" />
<line x1="225.50" y1="279.30" x2="225.50" y2="285.30" stroke="#000" stroke-width="1.0" />
<line x1="222.30" y1="279.30" x2="228.70" y2="279.30" stroke="#000" stroke-width="1.0" />
<line x1="222.30" y1="285.30" x2="228.70" y2="285.30" stroke="#000" stroke-width="1.0" />
<line x1="310.60" y1="270.50" x2="310.60" y2="287.70" stroke="#000" stroke-width="1.0" />
<line x1="307.40" y1="270.50" x2="313.80" y2="270.50" stroke="#000" stroke-width="1.0" />
<line x1="307.40" y1="287.70" x2="313.80" y2="287.70" stroke="#000" stroke-width="1.0" />
<line x1="55.40" y1="312.70" x2="55.40" y2="320.10" stroke="#000" stroke-width="1.0" />
<line x1="52.20" y1="312.70" x2="58.60" y2="312.70" stroke="#000" stroke-width="1.0" />
<line x1="52.20" y1="320.10" x2="58.60" y2="320.10" stroke="#000" stroke-width="1.0" />
<line x1="147.60" y1="270.30" x2="147.60" y2="276.30" stroke="#000" stroke-width="1.0" />
<line x1="144.40" y1="270.30" x2="150.80" y2="270.30" stroke="#000" stroke-width="1.0" />
<line x1="144.40" y1="276.30" x2="150.80" y2="276.30" stroke="#000" stroke-width="1.0" />
<line x1="225.50" y1="303.00" x2="225.50" y2="309.00" stroke="#000" stroke-width="1.0" />
<line x1="222.30" y1="303.00" x2="228.70" y2="303.00" stroke="#000" stroke-width="1.0" />
<line x1="222.30" y1="309.00" x2="228.70" y2="309.00" stroke="#000" stroke-width="1.0" />
<line x1="310.60" y1="281.70" x2="310.60" y2="287.70" stroke="#000" stroke-width="1.0" />
<line x1="307.40" y1="281.70" x2="313.80" y2="281.70" stroke="#000" stroke-width="1.0" />
<line x1="307.40" y1="287.70" x2="313.80" y2="287.70" stroke="#000" stroke-width="1.0" />
<line x1="55.40" y1="320.90" x2="55.40" y2="328.90" stroke="#000" stroke-width="1.0" />
<line x1="52.20" y1="320.90" x2="58.60" y2="320.90" stroke="#000" stroke-width="1.0" />
<line x1="52.20" y1="328.90" x2="58.60" y2="328.90" stroke="#000" stroke-width="1.0" />
<line x1="147.60" y1="284.70" x2="147.60" y2="299.30" stroke="#000" stroke-width="1.0" />
<line x1="144.40" y1="284.70" x2="150.80" y2="284.70" stroke="#000" stroke-width="1.0" />
<line x1="144.40" y1="299.30" x2="150.80" y2="299.30" stroke="#000" stroke-width="1.0" />
<line x1="225.50" y1="301.80" x2="225.50" y2="310.40" stroke="#000" stroke-width="1.0" />
<line x1="222.30" y1="301.80" x2="228.70" y2="301.80" stroke="#000" stroke-width="1.0" />
<line x1="222.30" y1="310.40" x2="228.70" y2="310.40" stroke="#000" stroke-width="1.0" />
<line x1="310.60" y1="293.00" x2="310.60" y2="299.00" stroke="#000" stroke-width="1.0" />
<line x1="307.40" y1="293.00" x2="313.80" y2="293.00" stroke="#000" stroke-width="1.0" />
<line x1="307.40" y1="299.00" x2="313.80" y2="299.00" stroke="#000" stroke-width="1.0" />
<circle cx="55.40" cy="385.40" r="2.50" fill="#fff" stroke="#000" stroke-width="1"/>
<circle cx="147.60" cy="412.90" r="2.50" fill="#fff" stroke="#000" stroke-width="1"/>
<circle cx="225.50" cy="421.90" r="2.50" fill="#fff" stroke="#000" stroke-width="1"/>
<circle cx="310.60" cy="424.20" r="2.50" fill="#fff" stroke="#000" stroke-width="1"/>
<polygon points="55.40,303.00 52.80,308.10 58.00,308.10" fill="#000" stroke="#000" stroke-width="1"/>
<polygon points="147.60,269.00 145.00,274.10 150.20,274.10" fill="#000" stroke="#000" stroke-width="1"/>
<polygon points="225.50,267.30 222.90,272.40 228.10,272.40" fill="#000" stroke="#000" stroke-width="1"/>
<polygon points="310.60,276.00 308.00,281.10 313.20,281.10" fill="#000" stroke="#000" stroke-width="1"/>
<rect x="53.20" y="307.80" width="4.40" height="4.40" fill="#000" stroke="#000" stroke-width="1"/>
<rect x="145.40" y="280.80" width="4.40" height="4.40" fill="#000" stroke="#000" stroke-width="1"/>
<rect x="223.30" y="292.10" width="4.40" height="4.40" fill="#000" stroke="#000" stroke-width="1"/>
<rect x="308.40" y="286.50" width="4.40" height="4.40" fill="#000" stroke="#000" stroke-width="1"/>
<polygon points="55.40,310.90 58.50,314.00 55.40,317.10 52.30,314.00" fill="#000" stroke="#000" stroke-width="1"/>
<polygon points="147.60,283.40 150.70,286.50 147.60,289.60 144.50,286.50" fill="#000" stroke="#000" stroke-width="1"/>
<polygon points="225.50,305.70 228.60,308.80 225.50,311.90 222.40,308.80" fill="#000" stroke="#000" stroke-width="1"/>
<polygon points="310.60,304.60 313.70,307.70 310.60,310.80 307.50,307.70" fill="#000" stroke="#000" stroke-width="1"/>
<polygon points="55.40,298.40 52.80,303.50 58.00,303.50" fill="#fff" stroke="#000" stroke-width="1"/>
<polygon points="147.60,266.10 145.00,271.20 150.20,271.20" fill="#fff" stroke="#000" stroke-width="1"/>
<polygon points="225.50,279.30 222.90,284.40 228.10,284.40" fill="#fff" stroke="#000" stroke-width="1"/>
<polygon points="310.60,276.10 308.00,281.20 313.20,281.20" fill="#fff" stroke="#000" stroke-width="1"/>
<rect x="53.20" y="314.20" width="4.40" height="4.40" fill="#fff" stroke="#000" stroke-width="1"/>
<rect x="145.40" y="271.10" width="4.40" height="4.40" fill="#fff" stroke="#000" stroke-width="1"/>
<rect x="223.30" y="303.80" width="4.40" height="4.40" fill="#fff" stroke="#000" stroke-width="1"/>
<rect x="308.40" y="282.50" width="4.40" height="4.40" fill="#fff" stroke="#000" stroke-width="1"/>
<polygon points="55.40,321.80 58.50,324.90 55.40,328.00 52.30,324.90" fill="#fff" stroke="#000" stroke-width="1"/>
<polygon points="147.60,288.90 150.70,292.00 147.60,295.10 144.50,292.00" fill="#fff" stroke="#000" stroke-width="1"/>
<polygon points="225.50,303.00 228.60,306.10 225.50,309.20 222.40,306.10" fill="#fff" stroke="#000" stroke-width="1"/>
<polygon points="310.60,292.90 313.70,296.00 310.60,299.10 307.50,296.00" fill="#fff" stroke="#000" stroke-width="1"/>
<polyline points="356.80,411.20 448.90,411.90 526.80,421.50 612.10,427.70" fill="none" stroke="#111" stroke-width="0.9" stroke-dasharray="6.1 2.3"/>
<polyline points="356.80,315.20 448.90,333.10 526.80,346.00 612.10,354.40" fill="none" stroke="#111" stroke-width="0.9" />
<polyline points="356.80,361.50 448.90,372.50 526.80,384.80 612.10,396.80" fill="none" stroke="#111" stroke-width="0.9" stroke-dasharray="7.6 2.2 0.9 1.5 0.9 1.9"/>
<polyline points="356.80,281.40 448.90,291.00 526.80,306.60 612.10,318.80" fill="none" stroke="#111" stroke-width="0.9" stroke-dasharray="6.1 2.3"/>
<polyline points="356.80,359.90 448.90,371.40 526.80,383.70 612.10,398.00" fill="none" stroke="#111" stroke-width="0.9" stroke-dasharray="7.6 2.2 0.9 1.5 0.9 1.9"/>
<polyline points="356.80,315.20 448.90,329.20 526.80,346.20 612.10,361.80" fill="none" stroke="#111" stroke-width="0.9" />
<polyline points="356.80,287.20 448.90,291.50 526.80,309.60 612.10,325.50" fill="none" stroke="#111" stroke-width="0.9" stroke-dasharray="6.1 2.3"/>
<circle cx="356.80" cy="411.20" r="2.50" fill="#fff" stroke="#000" stroke-width="1"/>
<circle cx="448.90" cy="411.90" r="2.50" fill="#fff" stroke="#000" stroke-width="1"/>
<circle cx="526.80" cy="421.50" r="2.50" fill="#fff" stroke="#000" stroke-width="1"/>
<circle cx="612.10" cy="427.70" r="2.50" fill="#fff" stroke="#000" stroke-width="1"/>
<rect x="354.60" y="313.00" width="4.40" height="4.40" fill="#000" stroke="#000" stroke-width="1"/>
<rect x="446.70" y="330.90" width="4.40" height="4.40" fill="#000" stroke="#000" stroke-width="1"/>
<rect x="524.60" y="343.80" width="4.40" height="4.40" fill="#000" stroke="#000" stroke-width="1"/>
<rect x="609.90" y="352.20" width="4.40" height="4.40" fill="#000" stroke="#000" stroke-width="1"/>
<rect x="354.60" y="359.30" width="4.40" height="4.40" fill="#000" stroke="#000" stroke-width="1"/>
<rect x="446.70" y="370.30" width="4.40" height="4.40" fill="#000" stroke="#000" stroke-width="1"/>
<rect x="524.60" y="382.60" width="4.40" height="4.40" fill="#000" stroke="#000" stroke-width="1"/>
<rect x="609.90" y="394.60" width="4.40" height="4.40" fill="#000" stroke="#000" stroke-width="1"/>
<polygon points="356.80,278.30 359.90,281.40 356.80,284.50 353.70,281.40" fill="#000" stroke="#000" stroke-width="1"/>
<polygon points="448.90,287.90 452.00,291.00 448.90,294.10 445.80,291.00" fill="#000" stroke="#000" stroke-width="1"/>
<polygon points="526.80,303.50 529.90,306.60 526.80,309.70 523.70,306.60" fill="#000" stroke="#000" stroke-width="1"/>
<polygon points="612.10,315.70 615.20,318.80 612.10,321.90 609.00,318.80" fill="#000" stroke="#000" stroke-width="1"/>
<polygon points="356.80,356.90 354.20,362.00 359.40,362.00" fill="#fff" stroke="#000" stroke-width="1"/>
<polygon points="448.90,368.40 446.30,373.50 451.50,373.50" fill="#fff" stroke="#000" stroke-width="1"/>
<polygon points="526.80,380.70 524.20,385.80 529.40,385.80" fill="#fff" stroke="#000" stroke-width="1"/>
<polygon points="612.10,395.00 609.50,400.10 614.70,400.10" fill="#fff" stroke="#000" stroke-width="1"/>
<rect x="354.60" y="313.00" width="4.40" height="4.40" fill="#fff" stroke="#000" stroke-width="1"/>
<rect x="446.70" y="327.00" width="4.40" height="4.40" fill="#fff" stroke="#000" stroke-width="1"/>
<rect x="524.60" y="344.00" width="4.40" height="4.40" fill="#fff" stroke="#000" stroke-width="1"/>
<rect x="609.90" y="359.60" width="4.40" height="4.40" fill="#fff" stroke="#000" stroke-width="1"/>
<polygon points="356.80,284.10 359.90,287.20 356.80,290.30 353.70,287.20" fill="#fff" stroke="#000" stroke-width="1"/>
<polygon points="448.90,288.40 452.00,291.50 448.90,294.60 445.80,291.50" fill="#fff" stroke="#000" stroke-width="1"/>
<polygon points="526.80,306.50 529.90,309.60 526.80,312.70 523.70,309.60" fill="#fff" stroke="#000" stroke-width="1"/>
<polygon points="612.10,322.40 615.20,325.50 612.10,328.60 609.00,325.50" fill="#fff" stroke="#000" stroke-width="1"/>
<polygon points="612.10,393.00 609.50,398.10 614.70,398.10" fill="#000" stroke="#000" stroke-width="1"/>
<line x1="225.30" y1="17.50" x2="271.60" y2="17.50" stroke="#888" stroke-width="1.0" stroke-dasharray="6.1 2.3"/>
<circle cx="248.40" cy="17.50" r="2.50" fill="#fff" stroke="#000" stroke-width="1"/>
<text x="282.50" y="21.10" font-family="Liberation Serif" font-size="8.5" font-weight="bold" text-anchor="start" >Control</text>
<line x1="225.30" y1="28.50" x2="271.60" y2="28.50" stroke="#000" stroke-width="1.0" />
<polygon points="248.40,25.50 245.80,30.60 251.00,30.60" fill="#000" stroke="#000" stroke-width="1"/>
<text x="282.50" y="31.60" font-family="Liberation Serif" font-size="8.5" font-weight="bold" text-anchor="start" >CRUxKCl150</text>
<line x1="225.30" y1="39.50" x2="271.60" y2="39.50" stroke="#666" stroke-width="1.0" stroke-dasharray="7.6 2.2 0.9 1.5 0.9 1.9"/>
<rect x="246.20" y="37.30" width="4.40" height="4.40" fill="#000" stroke="#000" stroke-width="1"/>
<text x="282.50" y="42.30" font-family="Liberation Serif" font-size="8.5" font-weight="bold" text-anchor="start" >CRUxKCl300</text>
<line x1="225.30" y1="49.50" x2="271.60" y2="49.50" stroke="#555" stroke-width="1.0" stroke-dasharray="6.1 2.3"/>
<polygon points="248.40,46.40 251.50,49.50 248.40,52.60 245.30,49.50" fill="#000" stroke="#000" stroke-width="1"/>
<text x="282.50" y="53.10" font-family="Liberation Serif" font-size="8.5" font-weight="bold" text-anchor="start" >CRUxKCl450</text>
<line x1="225.30" y1="60.50" x2="271.60" y2="60.50" stroke="#333" stroke-width="1.0" />
<polygon points="248.40,57.50 245.80,62.60 251.00,62.60" fill="#fff" stroke="#000" stroke-width="1"/>
<text x="282.50" y="63.60" font-family="Liberation Serif" font-size="8.5" font-weight="bold" text-anchor="start" >UreaxKCl150</text>
<line x1="225.30" y1="71.50" x2="271.60" y2="71.50" stroke="#222" stroke-width="1.0" stroke-dasharray="11 4.2 11 4.2 11 10"/>
<rect x="246.20" y="69.30" width="4.40" height="4.40" fill="#fff" stroke="#000" stroke-width="1"/>
<text x="282.50" y="74.40" font-family="Liberation Serif" font-size="8.5" font-weight="bold" text-anchor="start" >UreaxKCl300</text>
<line x1="225.30" y1="81.50" x2="271.60" y2="81.50" stroke="#888" stroke-width="1.7" />
<polygon points="248.40,78.40 251.50,81.50 248.40,84.60 245.30,81.50" fill="#fff" stroke="#000" stroke-width="1"/>
<text x="282.50" y="85.00" font-family="Liberation Serif" font-size="8.5" font-weight="bold" text-anchor="start" >UreaxKCl450</text>
<line x1="525.40" y1="19.50" x2="571.20" y2="19.50" stroke="#222" stroke-width="1.0" stroke-dasharray="6.1 2.3"/>
<circle cx="548.20" cy="19.50" r="2.50" fill="#fff" stroke="#000" stroke-width="1"/>
<text x="583.00" y="22.70" font-family="Liberation Serif" font-size="8.5" font-weight="bold" text-anchor="start" >Control</text>
<line x1="525.40" y1="30.50" x2="571.20" y2="30.50" stroke="#000" stroke-width="1.0" />
<polygon points="548.20,27.50 545.60,32.60 550.80,32.60" fill="#000" stroke="#000" stroke-width="1"/>
<text x="583.00" y="33.50" font-family="Liberation Serif" font-size="8.5" font-weight="bold" text-anchor="start" >CRUxKCl150</text>
<line x1="525.40" y1="40.50" x2="571.20" y2="40.50" stroke="#777" stroke-width="1.0" stroke-dasharray="7.6 2.2 0.9 1.5 0.9 1.9"/>
<rect x="546.00" y="38.30" width="4.40" height="4.40" fill="#000" stroke="#000" stroke-width="1"/>
<text x="583.00" y="44.00" font-family="Liberation Serif" font-size="8.5" font-weight="bold" text-anchor="start" >CRUxKCl300</text>
<line x1="525.40" y1="51.50" x2="571.20" y2="51.50" stroke="#222" stroke-width="1.0" stroke-dasharray="6.1 2.3"/>
<polygon points="548.20,48.40 551.30,51.50 548.20,54.60 545.10,51.50" fill="#000" stroke="#000" stroke-width="1"/>
<text x="583.00" y="54.60" font-family="Liberation Serif" font-size="8.5" font-weight="bold" text-anchor="start" >CRUxKCl450</text>
<line x1="525.40" y1="62.50" x2="571.20" y2="62.50" stroke="#111" stroke-width="1.0" />
<polygon points="548.20,59.50 545.60,64.60 550.80,64.60" fill="#fff" stroke="#000" stroke-width="1"/>
<text x="583.00" y="65.40" font-family="Liberation Serif" font-size="8.5" font-weight="bold" text-anchor="start" >UreaxKCl150</text>
<line x1="525.40" y1="72.50" x2="571.20" y2="72.50" stroke="#888" stroke-width="1.6" stroke-dasharray="11 4.2 11 4.2 11 10"/>
<rect x="546.00" y="70.30" width="4.40" height="4.40" fill="#fff" stroke="#000" stroke-width="1"/>
<text x="583.00" y="76.00" font-family="Liberation Serif" font-size="8.5" font-weight="bold" text-anchor="start" >UreaxKCl300</text>
<line x1="525.40" y1="83.50" x2="571.20" y2="83.50" stroke="#111" stroke-width="1.0" />
<polygon points="548.20,80.40 551.30,83.50 548.20,86.60 545.10,83.50" fill="#fff" stroke="#000" stroke-width="1"/>
<text x="583.00" y="86.40" font-family="Liberation Serif" font-size="8.5" font-weight="bold" text-anchor="start" >UreaxKCl450</text>
<line x1="148.00" y1="326.50" x2="194.00" y2="326.50" stroke="#333" stroke-width="1.0" stroke-dasharray="6.1 2.3"/>
<circle cx="171.30" cy="326.50" r="2.50" fill="#fff" stroke="#000" stroke-width="1"/>
<text x="205.40" y="329.60" font-family="Liberation Serif" font-size="8.5" font-weight="bold" text-anchor="start" >Control</text>
<line x1="148.00" y1="337.50" x2="194.00" y2="337.50" stroke="#000" stroke-width="1.0" />
<polygon points="171.30,334.50 168.70,339.60 173.90,339.60" fill="#000" stroke="#000" stroke-width="1"/>
<text x="205.40" y="340.20" font-family="Liberation Serif" font-size="8.5" font-weight="bold" text-anchor="start" >CRUxKCl150</text>
<line x1="148.00" y1="347.50" x2="194.00" y2="347.50" stroke="#888" stroke-width="1.5" stroke-dasharray="7.6 2.2 0.9 1.5 0.9 1.9"/>
<rect x="169.10" y="345.30" width="4.40" height="4.40" fill="#000" stroke="#000" stroke-width="1"/>
<text x="205.40" y="351.00" font-family="Liberation Serif" font-size="8.5" font-weight="bold" text-anchor="start" >CRUxKCl300</text>
<line x1="148.00" y1="358.50" x2="194.00" y2="358.50" stroke="#666" stroke-width="1.4" stroke-dasharray="6.1 2.3"/>
<polygon points="171.30,355.40 174.40,358.50 171.30,361.60 168.20,358.50" fill="#000" stroke="#000" stroke-width="1"/>
<text x="205.40" y="361.70" font-family="Liberation Serif" font-size="8.5" font-weight="bold" text-anchor="start" >CRUxKCl450</text>
<line x1="148.00" y1="369.50" x2="194.00" y2="369.50" stroke="#000" stroke-width="1.0" />
<polygon points="171.30,366.50 168.70,371.60 173.90,371.60" fill="#fff" stroke="#000" stroke-width="1"/>
<text x="205.40" y="372.40" font-family="Liberation Serif" font-size="8.5" font-weight="bold" text-anchor="start" >UreaxKCl150</text>
<line x1="148.00" y1="379.50" x2="194.00" y2="379.50" stroke="#222" stroke-width="1.0" stroke-dasharray="11 4.2 11 4.2 11 10"/>
<rect x="169.10" y="377.30" width="4.40" height="4.40" fill="#fff" stroke="#000" stroke-width="1"/>
<text x="205.40" y="383.00" font-family="Liberation Serif" font-size="8.5" font-weight="bold" text-anchor="start" >UreaxKCl300</text>
<line x1="148.00" y1="390.50" x2="194.00" y2="390.50" stroke="#000" stroke-width="1.0" />
<polygon points="171.30,387.40 174.40,390.50 171.30,393.60 168.20,390.50" fill="#fff" stroke="#000" stroke-width="1"/>
<text x="205.40" y="393.70" font-family="Liberation Serif" font-size="8.5" font-weight="bold" text-anchor="start" >UreaxKCl450</text>
<line x1="524.10" y1="235.50" x2="570.70" y2="235.50" stroke="#333" stroke-width="1.0" stroke-dasharray="6.1 2.3"/>
<circle cx="547.30" cy="235.50" r="2.50" fill="#fff" stroke="#000" stroke-width="1"/>
<text x="581.80" y="238.80" font-family="Liberation Serif" font-size="8.4" font-weight="bold" text-anchor="start" >Control</text>
<line x1="524.10" y1="244.50" x2="570.70" y2="244.50" stroke="#111" stroke-width="1.0" />
<polygon points="547.30,241.50 544.70,246.60 549.90,246.60" fill="#000" stroke="#000" stroke-width="1"/>
<text x="581.80" y="247.90" font-family="Liberation Serif" font-size="8.4" font-weight="bold" text-anchor="start" >CRUxKCl150</text>
<line x1="524.10" y1="254.50" x2="570.70" y2="254.50" stroke="#777" stroke-width="1.2" stroke-dasharray="7.6 2.2 0.9 1.5 0.9 1.9"/>
<rect x="545.10" y="252.30" width="4.40" height="4.40" fill="#000" stroke="#000" stroke-width="1"/>
<text x="581.80" y="257.80" font-family="Liberation Serif" font-size="8.4" font-weight="bold" text-anchor="start" >CRUxKCl300</text>
<line x1="524.10" y1="264.50" x2="570.70" y2="264.50" stroke="#333" stroke-width="1.0" stroke-dasharray="6.1 2.3"/>
<polygon points="547.30,261.40 550.40,264.50 547.30,267.60 544.20,264.50" fill="#000" stroke="#000" stroke-width="1"/>
<text x="581.80" y="267.40" font-family="Liberation Serif" font-size="8.4" font-weight="bold" text-anchor="start" >CRUxKCl450</text>
<line x1="524.10" y1="273.50" x2="570.70" y2="273.50" stroke="#222" stroke-width="1.0" />
<polygon points="547.30,270.50 544.70,275.60 549.90,275.60" fill="#fff" stroke="#000" stroke-width="1"/>
<text x="581.80" y="277.10" font-family="Liberation Serif" font-size="8.4" font-weight="bold" text-anchor="start" >UreaxKCl150</text>
<line x1="524.10" y1="283.50" x2="570.70" y2="283.50" stroke="#333" stroke-width="1.0" stroke-dasharray="11 4.2 11 4.2 11 10"/>
<rect x="545.10" y="281.30" width="4.40" height="4.40" fill="#fff" stroke="#000" stroke-width="1"/>
<text x="581.80" y="287.00" font-family="Liberation Serif" font-size="8.4" font-weight="bold" text-anchor="start" >UreaxKCl300</text>
<line x1="524.10" y1="293.50" x2="570.70" y2="293.50" stroke="#222" stroke-width="1.0" />
<polygon points="547.30,290.40 550.40,293.50 547.30,296.60 544.20,293.50" fill="#fff" stroke="#000" stroke-width="1"/>
<text x="581.80" y="296.60" font-family="Liberation Serif" font-size="8.4" font-weight="bold" text-anchor="start" >UreaxKCl450</text></svg>
</body></html>
